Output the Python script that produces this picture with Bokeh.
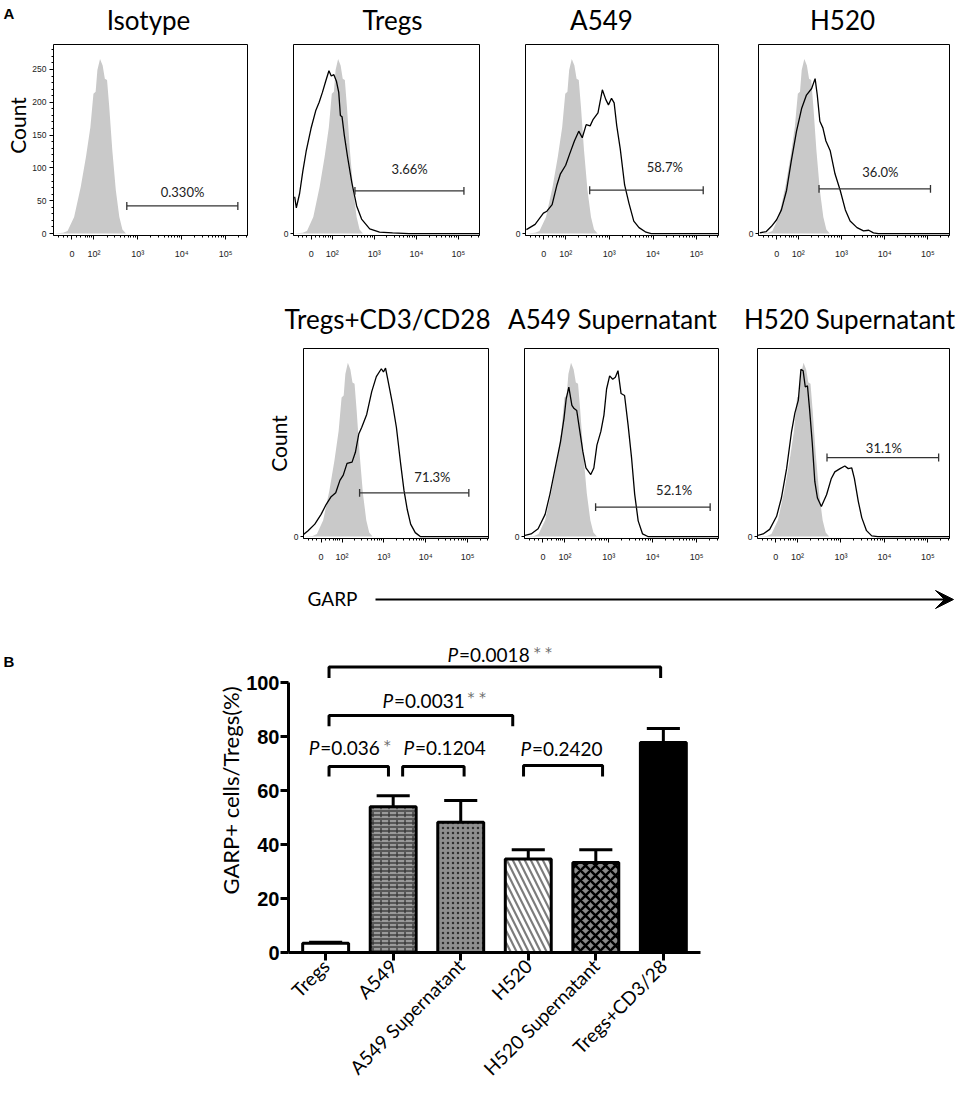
import math
from bokeh.plotting import figure
from bokeh.layouts import column, row
from bokeh.models import FixedTicker, Arrow, VeeHead, Spacer, ColumnDataSource, LinearAxis
from bokeh.core.properties import value
from bokeh.embed import file_html
from bokeh.resources import INLINE

# ---------------- Panel A data: flow cytometry histograms ----------------
# x is in display units of the logicle axis (1.5 = "0", 2 = 10^2, 3 = 10^3 ...)
x_tick_vals = [1.5, 2, 3, 4, 5]
x_tick_labels = ["0", "10²", "10³", "10⁴", "10⁵"]

iso_u = [1.10, 1.30, 1.40, 1.55, 1.70, 1.82, 1.92, 1.99, 2.04, 2.08, 2.14, 2.20, 2.25, 2.30, 2.35, 2.42, 2.50, 2.58, 2.65, 2.73, 5.50]
iso_c = [0, 1, 4, 25, 71, 117, 162, 213, 216, 249, 266, 256, 236, 234, 193, 127, 66, 25, 6, 0, 0]

tregs_u = [1.108, 1.147, 1.225, 1.302, 1.38, 1.496, 1.612, 1.69, 1.767, 1.845, 1.922, 1.977, 2.039, 2.10, 2.155, 2.194, 2.233, 2.287, 2.364, 2.465, 2.581, 2.698, 2.891, 3.124, 3.434, 3.822, 5.5]
tregs_c = [56, 39, 61, 95, 125, 160, 188, 200, 215, 232, 248, 240, 242, 232, 215, 180, 178, 150, 117, 78, 42, 22, 7, 2, 1, 0, 0]

a549_u = [1.10, 1.30, 1.49, 1.57, 1.69, 1.80, 1.88, 2.00, 2.09, 2.20, 2.30, 2.38, 2.47, 2.56, 2.63, 2.74, 2.84, 2.92, 2.98, 3.05, 3.11, 3.17, 3.25, 3.35, 3.45, 3.56, 3.68, 3.84, 3.96, 5.5]
a549_c = [6, 14, 31, 34, 44, 74, 91, 104, 121, 141, 156, 146, 166, 164, 174, 184, 219, 204, 196, 206, 199, 164, 129, 74, 46, 19, 9, 2, 0, 0]

h520_u = [1.11, 1.26, 1.38, 1.50, 1.61, 1.73, 1.84, 1.96, 2.08, 2.19, 2.31, 2.39, 2.44, 2.50, 2.57, 2.64, 2.74, 2.85, 2.97, 3.09, 3.20, 3.36, 3.51, 3.63, 3.74, 3.85, 5.5]
h520_c = [1, 3, 11, 21, 36, 66, 111, 156, 191, 211, 221, 236, 211, 171, 161, 141, 126, 91, 66, 36, 19, 9, 4, 5, 1, 0, 0]

tcd_u = [1.04, 1.19, 1.35, 1.50, 1.62, 1.74, 1.85, 1.95, 2.03, 2.12, 2.24, 2.32, 2.40, 2.47, 2.59, 2.71, 2.82, 2.94, 2.99, 3.04, 3.09, 3.21, 3.30, 3.40, 3.48, 3.56, 3.64, 3.75, 3.87, 5.5]
tcd_c = [1, 9, 19, 34, 49, 61, 67, 86, 94, 112, 114, 129, 157, 167, 187, 222, 245, 257, 252, 258, 242, 202, 167, 112, 71, 41, 19, 6, 0, 0]

a549s_u = [1.04, 1.23, 1.39, 1.55, 1.66, 1.78, 1.90, 1.98, 2.03, 2.09, 2.16, 2.21, 2.27, 2.33, 2.41, 2.48, 2.59, 2.66, 2.73, 2.82, 2.89, 2.95, 3.02, 3.09, 3.15, 3.21, 3.28, 3.36, 3.44, 3.52, 3.59, 3.67, 3.77, 3.89, 5.5]
a549s_c = [1, 4, 12, 34, 65, 105, 145, 181, 211, 229, 201, 196, 193, 166, 130, 105, 95, 105, 140, 161, 186, 226, 246, 241, 244, 254, 219, 216, 171, 120, 65, 24, 4, 0, 0]

h520s_u = [1.05, 1.21, 1.36, 1.52, 1.63, 1.75, 1.86, 1.94, 2.02, 2.08, 2.13, 2.18, 2.23, 2.28, 2.34, 2.40, 2.46, 2.55, 2.67, 2.78, 2.86, 2.98, 3.09, 3.17, 3.25, 3.31, 3.40, 3.48, 3.59, 3.71, 3.85, 5.5]
h520s_c = [1, 4, 11, 31, 59, 104, 159, 189, 209, 256, 254, 229, 231, 194, 144, 84, 59, 46, 64, 89, 99, 104, 108, 104, 105, 89, 54, 29, 9, 1, 0, 0]

panel_titles = ["Isotype", "Tregs", "A549", "H520", "Tregs+CD3/CD28", "A549 Supernatant", "H520 Supernatant"]
gate_lo = [2.75, 2.54, 2.55, 2.48, 2.42, 2.70, 2.68]
gate_hi = [5.28, 5.13, 5.15, 5.06, 5.03, 5.31, 5.25]
gate_y = [42, 65, 66, 68, 67, 45, 121]
gate_pct = ["0.330%", "3.66%", "58.7%", "36.0%", "71.3%", "52.1%", "31.1%"]
gate_tx = [4.02, 3.84, 4.27, 3.90, 4.16, 4.49, 3.99]
gate_ty = [64, 99, 101, 94, 91, 71, 136]

# ---------------- Panel B data: bar chart ----------------
bar_groups = ["Tregs", "A549", "A549 Supernatant", "H520", "H520 Supernatant", "Tregs+CD3/28"]
bar_mean = [3.4, 54.0, 48.2, 34.6, 33.3, 77.8]
bar_err = [0.4, 4.1, 8.1, 3.5, 4.8, 5.2]

br_x1 = [0.05, 0.05, 0.05, 1.14, 2.93]
br_x2 = [4.96, 2.77, 0.93, 2.05, 4.10]
br_top = [105.7, 87.8, 68.9, 68.9, 69.3]
br_leg = [101.7, 83.8, 65.2, 65.2, 65.2]
p_text = ["=0.0018", "=0.0031", "=0.036", "=0.1204", "=0.2420"]
p_x = [1.805, 0.843, -0.25, 1.154, 2.885]
p_y = [110.4, 93.3, 76.0, 76.0, 75.5]
star_text = ["* *", "* *", "*"]
star_x = [3.08, 2.10, 0.86]
star_y = [111.3, 94.5, 76.8]

# ---------------- styles & layout constants ----------------
GRAY = "#c9c9c9"
FONT = "Lato"
bar_fill = ["white", "#9a9a9a", "#8e8e8e", "#7c7c7c", "#8a8a8a", "black"]
bar_hatch = ["blank", "horizontal_line", "dot", "left_diagonal_line", "diagonal_cross", "blank"]
bar_hatch_color = ["black", "#333333", "#2e2e2e", "white", "black", "black"]
bar_hatch_scale = [8, 4, 5, 12, 10, 8]
bar_hatch_weight = [1, 1.3, 1.6, 3.2, 2.5, 1]
bar_hatch2 = ["blank", "vertical_dash", "blank", "blank", "blank", "blank"]

x_minor = [1.2, 1.3, 1.4, 1.6, 1.7, 1.8, 1.85, 1.9, 1.95] + \
          [d + math.log10(m) for d in (2, 3, 4) for m in range(2, 10)] + [5.301, 5.477]

curves = [None, (tregs_u, tregs_c), (a549_u, a549_c), (h520_u, h520_c),
          (tcd_u, tcd_c), (a549s_u, a549s_c), (h520s_u, h520s_c)]

# width, border left, border right, border top, frame h, border bottom
panel_geom = [
    (233, 24, 15, 2, 191, 33),
    (233, 31, 16, 2, 191, 33),
    (233, 30, 10, 2, 191, 33),
    (236, 30, 15, 2, 191, 33),
    (233, 36, 7, 2, 190, 32),
    (233, 29, 10, 2, 190, 32),
    (236, 29, 15, 2, 190, 32),
]
title_x = [148, 392, 601, 842, 387, 612, 849]
title_y = [19, 19, 19, 19, 318, 318, 318]

PAGE_W = 964


def blank_fig(width, height, x0, x1, ytop, ybot, bt=0, bb=0):
    f = figure(width=width, height=height, x_range=(x0, x1), y_range=(ybot, ytop),
               x_axis_type=None, y_axis_type=None, output_backend="svg",
               toolbar_location=None, title=None, min_border_left=0, min_border_right=0,
               min_border_top=bt, min_border_bottom=bb)
    f.outline_line_color = None
    f.background_fill_color = "white"
    f.border_fill_color = "white"
    return f


def hist_panel(k):
    w, bl, br, bt, fh, bb = panel_geom[k]
    p = figure(width=w, height=bt + fh + bb, x_range=(1.08, 5.5), y_range=(-3, 288),
               output_backend="svg", toolbar_location=None, title=None,
               min_border_left=bl, min_border_right=br, min_border_top=bt, min_border_bottom=bb)
    p.grid.visible = False
    p.outline_line_color = "black"
    p.outline_line_width = 1
    p.outline_line_alpha = 1
    p.background_fill_color = "white"
    p.border_fill_color = "white"

    xa = p.xaxis[0]
    xa.ticker = FixedTicker(ticks=x_tick_vals, minor_ticks=x_minor)
    xa.major_label_overrides = dict(zip(x_tick_vals, x_tick_labels))
    xa.major_label_text_font = "Liberation Sans"
    xa.major_label_text_font_size = "9px"
    xa.major_label_text_color = "#222222"
    xa.major_label_standoff = 9
    xa.major_tick_out = 4
    xa.major_tick_in = 0
    xa.minor_tick_out = 2
    xa.minor_tick_in = 0
    xa.axis_line_color = "black"

    ya = p.yaxis[0]
    if k == 0:
        ya.ticker = FixedTicker(ticks=[0, 50, 100, 150, 200, 250],
                                minor_ticks=[v for v in range(10, 290, 10)])
        ya.major_label_standoff = 3
        ya.major_tick_out = 4
    else:
        ya.ticker = FixedTicker(ticks=[0], minor_ticks=[])
        ya.major_label_standoff = 2
        ya.major_tick_out = 3
    ya.major_label_text_font = "Liberation Sans"
    ya.major_label_text_font_size = "8.5px"
    ya.major_label_text_color = "#222222"
    ya.major_tick_in = 0
    ya.minor_tick_out = 2
    ya.minor_tick_in = 0
    ya.axis_line_color = None

    p.varea(x=iso_u, y1=0, y2=iso_c, fill_color=GRAY)
    if curves[k] is not None:
        cu, cc = curves[k]
        p.line(cu, cc, line_color="black", line_width=1.3)

    gcol = "#333333"
    p.segment(x0=[gate_lo[k]], y0=[gate_y[k]], x1=[gate_hi[k]], y1=[gate_y[k]],
              line_color=gcol, line_width=1.3)
    p.segment(x0=[gate_lo[k], gate_hi[k]], y0=[gate_y[k] - 6, gate_y[k] - 6],
              x1=[gate_lo[k], gate_hi[k]], y1=[gate_y[k] + 6, gate_y[k] + 6],
              line_color=gcol, line_width=1.3)
    p.text(x=[gate_tx[k]], y=[gate_ty[k]], text=[gate_pct[k]], text_font=value(FONT),
           text_font_size="13px", text_align="center", text_baseline="middle",
           text_color="#222222")
    return p


hp = [hist_panel(k) for k in range(7)]

# "Count" on the Tregs+CD3/CD28 panel as its y-axis label
ya5 = hp[4].yaxis[0]
ya5.axis_label = "Count"
ya5.axis_label_text_font = FONT
ya5.axis_label_text_font_size = "21px"
ya5.axis_label_text_font_style = "normal"
ya5.axis_label_text_color = "black"
ya5.axis_label_standoff = 0

# ---------------- text strips ----------------
strip1 = blank_fig(PAGE_W, 42, 0, PAGE_W, 0, 42)
strip1.text(x=title_x[:4], y=title_y[:4], text=panel_titles[:4], text_font=value(FONT),
            text_font_size="26px", text_align="center", text_baseline="middle")
strip1.text(x=[3], y=[13], text=["A"], text_font=value("Liberation Sans"),
            text_font_style="bold", text_font_size="15px", text_align="left",
            text_baseline="middle")

strip2 = blank_fig(PAGE_W, 78, 0, PAGE_W, 268, 346)
strip2.text(x=title_x[4:], y=title_y[4:], text=panel_titles[4:], text_font=value(FONT),
            text_font_size="26px", text_align="center", text_baseline="middle")

count_fig = blank_fig(29, 226, 0, 29, 44, 235, bt=2, bb=33)
count_fig.text(x=[17], y=[125], text=["Count"], angle=math.pi / 2, text_font=value(FONT),
               text_font_size="21px", text_align="center", text_baseline="middle")

stripg = blank_fig(PAGE_W, 50, 0, PAGE_W, 570, 620)
stripg.text(x=[307], y=[598], text=["GARP"], text_font=value(FONT), text_font_size="19px",
            text_align="left", text_baseline="middle")
stripg.add_layout(Arrow(x_start=375, y_start=599, x_end=953, y_end=599, line_width=2,
                        line_color="black",
                        end=VeeHead(size=18, fill_color="black", line_color="black")))

# ---------------- Panel B: bar chart ----------------
b_fig = blank_fig(200, 470, 0, 200, 628, 952, bt=8, bb=138)
b_fig.text(x=[3], y=[661], text=["B"], text_font=value("Liberation Sans"),
           text_font_style="bold", text_font_size="15px", text_align="left",
           text_baseline="middle")

bp = figure(width=764, height=470, x_range=(-0.55, 5.55), y_range=(0, 120),
            output_backend="svg", toolbar_location=None, title=None,
            min_border_left=88, min_border_right=264, min_border_top=8, min_border_bottom=138)
bp.grid.visible = False
bp.outline_line_color = None
bp.background_fill_color = "white"
bp.border_fill_color = "white"

bar_x = list(range(len(bar_groups)))
src = ColumnDataSource(dict(x=bar_x, top=bar_mean, fill=bar_fill, hatch=bar_hatch,
                            hatch2=bar_hatch2, hc=bar_hatch_color, hs=bar_hatch_scale,
                            hw=bar_hatch_weight))
bp.vbar(x="x", top="top", bottom=0, width=0.68, source=src, fill_color="fill",
        hatch_pattern="hatch", hatch_color="hc", hatch_scale="hs", hatch_weight="hw",
        line_color=None)
bp.vbar(x="x", top="top", bottom=0, width=0.68, source=src, fill_color=None,
        hatch_pattern="hatch2", hatch_color="#333333", hatch_scale=8, hatch_weight=1.3,
        line_color="black", line_width=3)

err_top = [m + e for m, e in zip(bar_mean, bar_err)]
bp.segment(x0=bar_x, y0=bar_mean, x1=bar_x, y1=err_top, line_color="black", line_width=3)
bp.segment(x0=[x - 0.245 for x in bar_x], y0=err_top, x1=[x + 0.245 for x in bar_x],
           y1=err_top, line_color="black", line_width=3)

bp.multi_line(xs=[[a, a, b, b] for a, b in zip(br_x1, br_x2)],
              ys=[[l, t, t, l] for t, l in zip(br_top, br_leg)],
              line_color="black", line_width=3)
bp.text(x=p_x, y=p_y, text=["P"] * len(p_x), text_font=value(FONT), text_font_style="italic",
        text_font_size="19px", text_align="left", text_baseline="middle", text_color="black")
bp.text(x=p_x, y=p_y, text=p_text, x_offset=11.5, text_font=value(FONT),
        text_font_size="19px", text_align="left", text_baseline="middle", text_color="black")
bp.text(x=star_x, y=star_y, text=star_text, text_font=value("DejaVu Sans"),
        text_font_size="14px", text_align="left", text_baseline="middle", text_color="#6a6a6a")

xa = bp.xaxis[0]
xa.ticker = FixedTicker(ticks=bar_x, minor_ticks=[])
xa.major_label_overrides = dict(zip(bar_x, bar_groups))
xa.major_label_orientation = math.pi / 4
xa.major_label_text_font = FONT
xa.major_label_text_font_size = "19px"
xa.major_label_text_color = "black"
xa.major_label_standoff = 2
xa.axis_line_width = 3
xa.major_tick_line_width = 3
xa.major_tick_out = 8
xa.major_tick_in = 0

ya = bp.yaxis[0]
ya.ticker = FixedTicker(ticks=[0, 20, 40, 60, 80, 100], minor_ticks=[])
ya.bounds = (0, 100)
ya.major_label_text_font = "Liberation Sans"
ya.major_label_text_font_style = "bold"
ya.major_label_text_font_size = "20px"
ya.major_label_text_color = "black"
ya.major_label_standoff = 1
ya.axis_line_width = 3
ya.major_tick_line_width = 3
ya.major_tick_out = 8
ya.major_tick_in = 0

label_axis = LinearAxis(ticker=FixedTicker(ticks=[], minor_ticks=[]),
                        axis_label="GARP+ cells/Tregs(%)", axis_line_color=None,
                        major_tick_line_color=None, minor_tick_line_color=None,
                        major_tick_out=0, minor_tick_out=0, major_tick_in=0, minor_tick_in=0,
                        major_label_standoff=0, major_label_text_font_size="0px",
                        axis_label_standoff=0, axis_label_text_font=FONT,
                        axis_label_text_font_size="22px", axis_label_text_font_style="normal",
                        axis_label_text_color="black")
bp.add_layout(label_axis, "left")

layout = column(
    strip1,
    row(count_fig, hp[0], hp[1], hp[2], hp[3]),
    strip2,
    row(Spacer(width=262, height=224), hp[4], hp[5], hp[6]),
    stripg,
    row(b_fig, bp),
)

open("out.html", "w").write(file_html(layout, INLINE))
